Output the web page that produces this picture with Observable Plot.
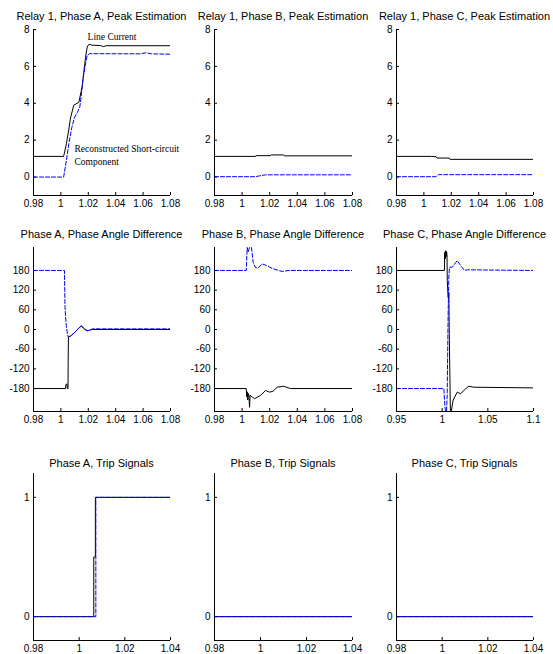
<!DOCTYPE html>
<html><head><meta charset="utf-8">
<script src="https://cdn.jsdelivr.net/npm/d3@7"></script>
<script src="https://cdn.jsdelivr.net/npm/@observablehq/plot@0.6"></script>
<style>
body{margin:0;background:#fff;}
#fig{position:relative;width:553px;height:654px;background:#fff;font-family:"Liberation Sans",Arial,sans-serif;overflow:hidden}
.ttl{position:absolute;width:240px;text-align:center;font-size:11px;line-height:14px;color:#000;white-space:nowrap}
.pnl{position:absolute;display:block}
</style></head><body><div id="fig"></div><script>
// ---------- tick values ----------
const ticksT1 = [0.98, 1, 1.02, 1.04, 1.06, 1.08];
const ticksT2 = [0.95, 1, 1.05, 1.1];
const ticksT3 = [0.98, 1, 1.02, 1.04];
const ticksPeak = [0, 2, 4, 6, 8];
const ticksAngle = [-180, -120, -60, 0, 60, 120, 180];
const ticksTrip = [0, 1];

// ---------- titles ----------
const titles = [
  ["Relay 1, Phase A, Peak Estimation", "Relay 1, Phase B, Peak Estimation", "Relay 1, Phase C, Peak Estimation"],
  ["Phase A, Phase Angle Difference", "Phase B, Phase Angle Difference", "Phase C, Phase Angle Difference"],
  ["Phase A, Trip Signals", "Phase B, Trip Signals", "Phase C, Trip Signals"]
];

// ---------- series: [time, value] ----------
// Peak estimation (black = line current, blue = reconstructed short-circuit component)
const peakA_line = [[0.98,1.12],[1.002,1.12],[1.004,1.8],[1.0058,2.6],[1.007,3.2],[1.0094,3.9],[1.0131,4.05],[1.0155,4.9],[1.018,6.5],[1.0192,7.05],[1.0205,7.2],[1.023,7.15],[1.029,7.13],[1.031,7.07],[1.033,7.12],[1.08,7.12]];
const peakA_sc   = [[0.98,0],[1.002,0],[1.004,0.9],[1.006,1.9],[1.008,2.7],[1.010,3.25],[1.012,3.5],[1.0138,3.8],[1.015,4.5],[1.0163,5.4],[1.018,6.15],[1.0192,6.6],[1.021,6.69],[1.058,6.68],[1.062,6.74],[1.066,6.68],[1.08,6.66]];
const peakB_line = [[0.98,1.12],[1.0097,1.12],[1.010,1.16],[1.0205,1.16],[1.021,1.2],[1.030,1.2],[1.0305,1.15],[1.08,1.15]];
const peakB_sc   = [[0.98,0.02],[1.0095,0.02],[1.013,0.07],[1.017,0.12],[1.08,0.12]];
const peakC_line = [[0.98,1.12],[1.0055,1.12],[1.009,1.1],[1.0095,1.03],[1.0185,1.03],[1.019,0.96],[1.08,0.96]];
const peakC_sc   = [[0.98,0.02],[1.009,0.02],[1.0105,0.13],[1.08,0.13]];
const peakNotes  = [
  {t: 1.0195, v: 7.62, label: "Line Current"},
  {t: 1.0099, v: 1.51, label: "Reconstructed Short-circuit"},
  {t: 1.0099, v: 0.81, label: "Component"}
];

// Phase angle difference (degrees)
const angA_black = [[0.98,-180],[1.0034,-180],[1.0036,-168],[1.0044,-166],[1.0047,-180],[1.0052,-180],[1.0053,-100],[1.0055,-23],[1.007,-20],[1.009,-13],[1.011,-5],[1.013,4],[1.015,11],[1.017,2],[1.0196,-4],[1.021,-2],[1.023,0],[1.08,0]];
const angA_blue  = [[0.98,180],[1.0026,180],[1.0028,120],[1.003,70],[1.0034,37],[1.004,10],[1.0047,-12],[1.0053,-22],[1.007,-20],[1.009,-13],[1.011,-5],[1.013,4],[1.015,11],[1.017,2],[1.019,-4],[1.021,-2],[1.023,2],[1.08,2]];
const angB_black = [[0.98,-180],[1.003,-180],[1.0033,-205],[1.0037,-190],[1.0041,-215],[1.0045,-195],[1.0049,-203],[1.0054,-237],[1.0058,-200],[1.0073,-206],[1.009,-211],[1.0133,-201],[1.017,-186],[1.020,-191],[1.0225,-188],[1.0254,-176],[1.030,-173],[1.035,-180],[1.08,-180]];
const angB_blue  = [[0.98,180],[1.003,180],[1.0037,250],[1.0044,236],[1.0054,250],[1.0068,250],[1.008,205],[1.0097,189],[1.0114,187],[1.0146,200],[1.0177,195],[1.0218,186],[1.0266,180],[1.029,177],[1.034,180],[1.08,180]];
const angC_black = [[0.95,180],[1.0025,180],[1.0027,235],[1.0033,215],[1.0038,240],[1.0043,222],[1.0048,238],[1.0053,228],[1.0056,150],[1.0065,98],[1.007,95],[1.0073,113],[1.0078,-20],[1.0085,-150],[1.009,-250],[1.0099,-250],[1.012,-215],[1.0165,-191],[1.0201,-196],[1.0256,-181],[1.0292,-173],[1.0347,-176],[1.1,-178]];
const angC_blue  = [[0.95,-180],[1.0018,-180],[1.003,-235],[1.0037,-250],[1.0048,-250],[1.0055,-200],[1.006,-80],[1.0066,60],[1.0073,160],[1.008,190],[1.011,190],[1.0165,210],[1.021,192],[1.0245,180],[1.0275,182],[1.1,180]];

// Trip signals
const tripA_black = [[0.98,0],[1.0064,0],[1.0064,0.5],[1.0071,0.5],[1.0071,1],[1.04,1]];
const tripA_blue  = [[0.98,0],[1.0073,0],[1.0073,1],[1.04,1]];
const tripB_black = [[0.98,0],[1.04,0]];
const tripB_blue  = [[0.98,0],[1.04,0]];
const tripC_black = [[0.98,0],[1.04,0]];
const tripC_blue  = [[0.98,0],[1.04,0]];

// ---------- layout (axes boxes in page pixels) ----------
const COLS = [[33,170],[214,352],[396,533]];
const ROWS = [[29,195],[247,411],[473,640]];
const TITLE_Y = [16, 234, 463];

const fmt = d => String(+(+d).toFixed(2));
const fig = document.getElementById("fig");

function panel(row, col, cfg) {
  const [x0,x1] = COLS[col], [y0,y1] = ROWS[row];
  const mL = 32, mR = 14, mT = 6, mB = 22;
  const w = x1 - x0 + mL + mR, h = y1 - y0 + mT + mB;
  const [xa, xb] = cfg.xDomain, [ya, yb] = cfg.yDomain;
  const ty = (yb - ya) * 3 / (y1 - y0);
  const tx = (xb - xa) * 3 / (x1 - x0);
  const marks = [
    Plot.ruleX(cfg.xTicks, {x: d => d, y1: ya, y2: ya + ty, stroke: "#000"}),
    Plot.ruleY(cfg.yTicks, {y: d => d, x1: xa, x2: xa + tx, stroke: "#000"}),
    Plot.line(cfg.black, {stroke: "#000", strokeWidth: 1, clip: true}),
    Plot.line(cfg.blue, {stroke: "#0000ff", strokeWidth: 1, strokeDasharray: "4,2", clip: true}),
    Plot.ruleY([ya], {stroke: "#000"}),
    Plot.ruleX([xa], {stroke: "#000"})
  ];
  if (cfg.notes) {
    marks.push(Plot.text(cfg.notes, {x: "t", y: "v", text: "label", textAnchor: "start",
      fontFamily: "Liberation Serif, Times New Roman, serif", fontSize: 9.5, fill: "#000"}));
  }
  const svg = Plot.plot({
    width: w, height: h,
    marginLeft: mL, marginRight: mR, marginTop: mT, marginBottom: mB,
    x: {domain: cfg.xDomain, ticks: cfg.xTicks, tickFormat: fmt, tickSize: 0, tickPadding: 4, label: null},
    y: {domain: cfg.yDomain, ticks: cfg.yTicks, tickFormat: fmt, tickSize: 0, tickPadding: 4, label: null},
    style: {fontFamily: "Liberation Sans, Arial, sans-serif", fontSize: "10px", color: "#000", background: "transparent", overflow: "visible"},
    marks
  });
  svg.classList.add("pnl");
  svg.style.left = (x0 - mL) + "px";
  svg.style.top = (y0 - mT) + "px";
  fig.appendChild(svg);
  const t = document.createElement("div");
  t.className = "ttl";
  t.textContent = titles[row][col];
  t.style.left = ((x0 + x1) / 2 - 120) + "px";
  t.style.top = (TITLE_Y[row] - 7) + "px";
  fig.appendChild(t);
}

const dT1 = [0.98, 1.08], dT2 = [0.95, 1.1], dT3 = [0.98, 1.04];
const dPeak = [-1, 8], dAngle = [-250, 250], dTrip = [-0.2, 1.2];

panel(0, 0, {xDomain: dT1, xTicks: ticksT1, yDomain: dPeak, yTicks: ticksPeak, black: peakA_line, blue: peakA_sc, notes: peakNotes});
panel(0, 1, {xDomain: dT1, xTicks: ticksT1, yDomain: dPeak, yTicks: ticksPeak, black: peakB_line, blue: peakB_sc});
panel(0, 2, {xDomain: dT1, xTicks: ticksT1, yDomain: dPeak, yTicks: ticksPeak, black: peakC_line, blue: peakC_sc});
panel(1, 0, {xDomain: dT1, xTicks: ticksT1, yDomain: dAngle, yTicks: ticksAngle, black: angA_black, blue: angA_blue});
panel(1, 1, {xDomain: dT1, xTicks: ticksT1, yDomain: dAngle, yTicks: ticksAngle, black: angB_black, blue: angB_blue});
panel(1, 2, {xDomain: dT2, xTicks: ticksT2, yDomain: dAngle, yTicks: ticksAngle, black: angC_black, blue: angC_blue});
panel(2, 0, {xDomain: dT3, xTicks: ticksT3, yDomain: dTrip, yTicks: ticksTrip, black: tripA_black, blue: tripA_blue});
panel(2, 1, {xDomain: dT3, xTicks: ticksT3, yDomain: dTrip, yTicks: ticksTrip, black: tripB_black, blue: tripB_blue});
panel(2, 2, {xDomain: dT3, xTicks: ticksT3, yDomain: dTrip, yTicks: ticksTrip, black: tripC_black, blue: tripC_blue});
</script></body></html>
